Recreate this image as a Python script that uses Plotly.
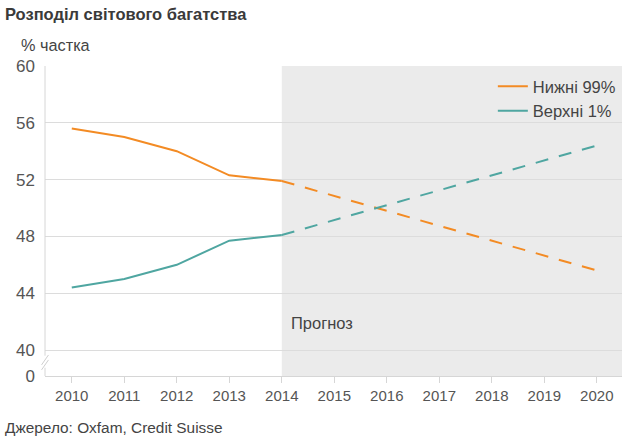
import plotly.graph_objects as go

years = [2010, 2011, 2012, 2013, 2014]
lower99 = [55.6, 55.0, 54.0, 52.3, 51.9]
upper1 = [44.4, 45.0, 46.0, 47.7, 48.1]
forecast_years = [2014, 2020]
lower99_forecast = [51.9, 45.6]
upper1_forecast = [48.1, 54.4]

y_ticks = [40, 44, 48, 52, 56, 60]
x_ticks = list(range(2010, 2021))

ORANGE = "#f38b24"
TEAL = "#4fa6a1"
BREAK = 38.17  # axis position where the "0" label sits after the break

fig = go.Figure()
fig.add_trace(go.Scatter(x=years, y=lower99, mode="lines", name="Нижні 99%",
                         line=dict(color=ORANGE, width=2)))
fig.add_trace(go.Scatter(x=years, y=upper1, mode="lines", name="Верхні 1%",
                         line=dict(color=TEAL, width=2)))
fig.add_trace(go.Scatter(x=forecast_years, y=lower99_forecast, mode="lines", showlegend=False,
                         line=dict(color=ORANGE, width=2, dash="13px,11px")))
fig.add_trace(go.Scatter(x=forecast_years, y=upper1_forecast, mode="lines", showlegend=False,
                         line=dict(color=TEAL, width=2, dash="13px,11px")))

shapes = [
    dict(type="rect", xref="x", yref="paper", x0=2014, x1=2020.48, y0=0, y1=1,
         fillcolor="#ebebeb", line=dict(width=0), layer="below"),
    dict(type="line", xref="paper", yref="y", x0=0, x1=0, y0=39.6, y1=60,
         line=dict(color="#d6d6d6", width=1)),
    dict(type="line", xref="paper", yref="y", x0=0, x1=0, y0=BREAK, y1=38.75,
         line=dict(color="#d6d6d6", width=1)),
]
# break marks
for dy in (0, 0.35):
    shapes.append(dict(type="line", xref="paper", yref="y",
                       x0=-0.006, x1=0.006, y0=38.6 + dy, y1=39.3 + dy,
                       line=dict(color="#cfcfcf", width=1)))

fig.update_layout(
    width=640, height=437,
    margin=dict(l=45, r=18, t=66, b=61),
    paper_bgcolor="white", plot_bgcolor="white",
    font=dict(family="Arial, Liberation Sans, sans-serif", color="#555555", size=14),
    shapes=shapes,
    showlegend=True,
    legend=dict(x=0.998, y=0.99, xanchor="right", yanchor="top",
                bgcolor="rgba(0,0,0,0)", font=dict(size=16.5, color="#444444"),
                itemwidth=30, tracegroupgap=0),
    xaxis=dict(range=[2009.49, 2020.48], tickvals=x_ticks, showgrid=False,
               showline=True, linecolor="#d6d6d6", ticks="outside", ticklen=6,
               tickcolor="#d6d6d6", tickfont=dict(size=15, color="#555555"),
               zeroline=False),
    yaxis=dict(range=[BREAK, 60], tickvals=[BREAK] + y_ticks,
               ticktext=["0"] + [str(v) for v in y_ticks],
               showgrid=True, gridcolor="#dcdcdc", gridwidth=1, showline=False,
               zeroline=False, ticks="", ticklabelstandoff=9,
               tickfont=dict(size=17, color="#555555")),
    annotations=[
        dict(text="<b>Розподіл світового багатства</b>", xref="paper", yref="paper",
             x=-0.073, y=1.168, xanchor="left", yanchor="middle", showarrow=False,
             font=dict(size=16.5, color="#3a3a3a")),
        dict(text="% частка", xref="paper", yref="paper", x=-0.045, y=1.068,
             xanchor="left", yanchor="middle", showarrow=False,
             font=dict(size=16.3, color="#444444")),
        dict(text="Прогноз", xref="x", yref="y", x=2014.13, y=41.9,
             xanchor="left", yanchor="middle", showarrow=False,
             font=dict(size=16.5, color="#444444")),
        dict(text="Джерело: Oxfam, Credit Suisse", xref="paper", yref="paper",
             x=-0.073, y=-0.165, xanchor="left", yanchor="middle", showarrow=False,
             font=dict(size=15.4, color="#444444")),
    ],
)

fig.write_html("out.html", config={"displayModeBar": False},
               post_script="document.body.style.margin='0';")
